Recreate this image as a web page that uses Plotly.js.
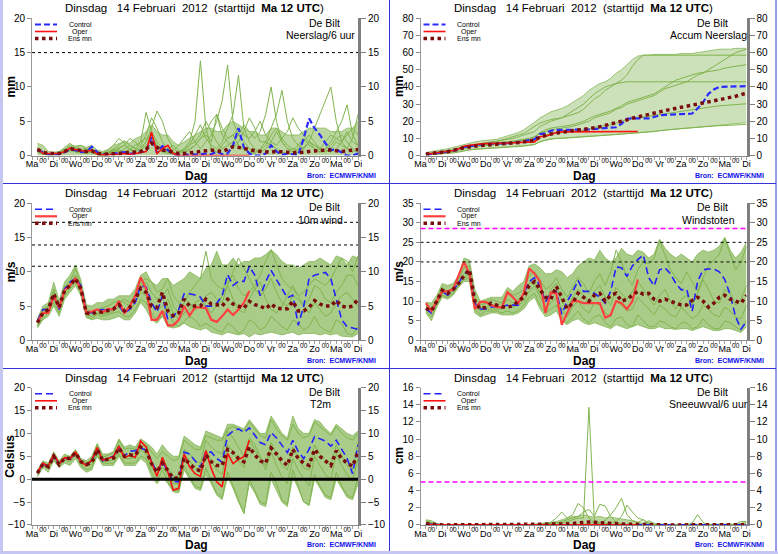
<!DOCTYPE html>
<html><head><meta charset="utf-8">
<script src="https://cdn.plot.ly/plotly-3.0.1.min.js"></script>
<style>html,body{margin:0;padding:0;background:#fff}#chart{width:778px;height:554px}</style>
</head><body><div id="chart"></div>
<script>
// ---------- time axis ----------
const leadDays = [0.25,0.5,0.75,1,1.25,1.5,1.75,2,2.25,2.5,2.75,3,3.25,3.5,3.75,4,4.25,4.5,4.75,5,
 5.25,5.5,5.75,6,6.25,6.5,6.75,7,7.25,7.5,7.75,8,8.25,8.5,8.75,9,9.25,9.5,9.75,10,
 10.25,10.5,10.75,11,11.25,11.5,11.75,12,12.25,12.5,12.75,13,13.25,13.5,13.75,14,14.25,14.5,14.75,15];
const dayPos = [0,1,2,3,4,5,6,7,8,9,10,11,12,13,14,15];
const dayNames = ['Ma','Di','Wo','Do','Vr','Za','Zo','Ma','Di','Wo','Do','Vr','Za','Zo','Ma','Di'];
const midPos = [0.5,1.5,2.5,3.5,4.5,5.5,6.5,7.5,8.5,9.5,10.5,11.5,12.5,13.5,14.5];
const midLabels = ['00','00','00','00','00','00','00','00','00','00','00','00','00','00','00'];

// ---------- panel 1: Neerslag/6 uur ----------
const p1Ticks = [0,5,10,15,20];
const p1Dotted = [15];
const p1Ctrl = [0.8,0.5,0.2,0.2, 0.2,0.5,0.9,0.8, 0.5,0.6,1.3,0.5, 0.2,0.2,0.3,0.3, 0.5,0.3,0.3,0.5,
 0.6,2.7,0.4,1.4, 0.8,0.2,0.1,0.1, 0.1,0.1,0.2,0.3, 0.2,0.6,0.2,0.3, 1.5,4.0,1.2,0.3,
 0.0,0.0,0.3,1.5, 0.6,0.1,0.3,0.2, 0.1,2.5,5.4,4.0, 3.0,1.8,0.8,0.9, 0.4,0.0,0.0,0.3];
const p1Oper = [1.0,0.3,0.3,0.3, 0.3,0.6,1.1,0.9, 0.7,0.6,0.8,0.2, 0.1,0.1,0.2,0.2, 0.3,0.2,0.3,0.4,
 0.6,3.4,0.3,1.0, 1.5,0.3,0.0,0.0, 0.0,0.0,0.1,0.1, 0.1,0.0,0.0,0.0, 0.0,0.0,0.0,0.0];
const p1Mean = [0.9,0.5,0.3,0.3, 0.3,0.6,1.0,0.9, 0.7,0.6,0.7,0.3, 0.2,0.2,0.3,0.3, 0.4,0.5,0.5,0.6,
 0.9,1.8,1.2,0.8, 0.7,0.5,0.3,0.3, 0.4,0.5,0.7,0.8, 0.8,0.7,0.6,0.9, 1.3,1.2,1.0,0.8,
 0.7,0.6,0.5,0.5, 0.6,0.6,0.5,0.4, 0.4,0.5,0.6,0.7, 0.7,0.8,0.8,0.7, 0.6,0.7,0.8,0.9];
const p1Hi = [1.8,1.5,0.6,0.5, 0.6,1.0,1.6,1.4, 1.5,1.2,1.5,0.8, 0.6,0.9,1.5,1.8, 2.0,1.8,2.5,2.8,
 3.5,4.5,3.5,3.0, 3.0,2.0,1.5,2.0, 2.5,3.0,3.5,4.0, 4.0,3.5,3.5,4.5, 5.0,4.5,4.0,3.5,
 3.5,3.0,3.0,4.0, 4.0,3.5,3.0,3.0, 3.0,3.5,4.0,4.0, 4.0,4.0,3.5,3.5, 3.5,4.0,4.0,5.0];
const p1M1 = [0.5,0.2,0.1,0.1, 0.2,0.8,1.0,0.5, 0.4,0.3,0.5,0.1, 0.0,0.3,0.8,1.2, 1.5,0.8,0.5,1.0,
 2.0,3.0,1.5,0.8, 0.5,0.3,0.5,1.0, 2.0,5.0,13.8,4.0, 1.0,0.5,1.5,2.5, 3.0,1.5,0.8,0.5,
 0.3,1.0,2.0,1.5, 1.0,0.5,0.3,0.2, 0.5,1.0,2.0,1.5, 0.8,0.5,1.0,2.0, 1.5,1.0,0.5,1.0];
const p1M2 = [1.2,0.6,0.2,0.3, 0.5,1.2,1.8,1.0, 0.6,0.8,1.0,0.3, 0.2,0.5,1.0,1.5, 2.2,1.5,1.0,2.0,
 6.3,3.5,2.0,1.0, 0.5,0.8,1.5,2.5, 3.5,2.0,1.0,2.0, 3.0,5.0,8.0,13.2, 5.0,3.0,2.0,1.0,
 0.5,0.8,1.5,3.0, 4.0,2.5,1.5,1.0, 0.8,1.2,2.0,1.0, 0.5,1.0,1.5,2.5, 3.0,2.0,1.0,0.5];
const p1M3 = [0.7,0.4,0.1,0.2, 0.3,0.5,0.8,1.2, 1.5,0.8,0.4,0.2, 0.1,0.2,0.5,1.0, 1.5,2.5,2.0,1.2,
 2.0,4.0,6.5,5.0, 2.5,1.0,0.5,0.8, 1.5,3.0,4.5,2.5, 1.5,1.0,2.0,4.0, 6.0,11.7,4.0,2.0,
 1.0,0.5,1.0,2.0, 3.5,2.0,1.0,0.5, 1.0,2.0,3.0,2.0, 1.0,0.8,0.5,1.0, 2.0,3.5,2.0,1.5];
const p1M4 = [0.9,0.5,0.2,0.1, 0.2,0.6,1.2,0.8, 0.5,0.4,0.8,0.5, 0.3,0.5,0.8,0.5, 1.0,1.5,1.0,0.8,
 1.5,2.5,1.5,0.5, 0.3,0.2,0.5,1.0, 1.5,2.0,3.0,5.0, 3.5,2.0,1.0,1.5, 2.0,3.0,4.5,3.5,
 2.5,3.5,6.0,10.0, 5.0,2.0,1.0,0.8, 1.5,2.5,1.5,1.0, 0.5,1.0,2.0,3.5, 5.0,7.4,3.0,1.5];
const p1M5 = [0.6,0.3,0.2,0.2, 0.4,0.9,1.4,1.0, 0.8,0.6,0.3,0.2, 0.2,0.4,0.6,0.8, 0.6,0.9,1.5,2.0,
 2.5,3.0,1.0,0.6, 1.0,1.5,0.8,0.4, 0.8,1.5,2.5,3.5, 5.0,6.0,3.0,2.0, 1.0,2.0,3.5,5.5,
 4.0,2.0,2.0,4.0, 6.0,9.5,5.0,2.5, 1.5,1.0,2.0,4.0, 6.0,8.0,10.0,5.0, 2.0,1.0,2.5,6.0];
const p1M6 = [0.8,0.4,0.3,0.2, 0.1,0.4,0.7,0.6, 0.9,1.0,0.6,0.2, 0.4,0.8,1.5,2.5, 1.8,1.0,0.7,1.5,
 3.0,5.5,4.0,2.0, 1.0,0.5,0.3,0.6, 1.0,1.5,2.5,3.0, 2.0,6.0,4.0,2.5, 3.0,4.0,3.0,2.5,
 3.5,5.0,3.0,2.0, 1.5,2.5,3.5,5.5, 4.0,3.0,2.0,1.5, 1.0,2.0,3.0,2.5, 2.0,3.0,4.0,3.0];

// ---------- panel 2: Accum Neerslag ----------
const p2Ticks = [0,10,20,30,40,50,60,70,80];
const p2Ctrl = [0.5,1.0,1.5,2.0, 2.3,2.8,3.8,5.0, 5.5,6.0,6.5,6.8, 7.0,7.0,7.1,7.2, 7.5,7.8,8.3,9.0,
 9.5,12.5,13.0,14.5, 15.0,15.0,15.0,15.0, 15.0,15.0,15.2,15.5, 15.8,16.0,16.3,16.5, 18.5,21.5,21.7,21.7,
 21.7,21.7,22.5,23.5, 23.7,24.0,24.0,24.2, 24.3,24.5,27.5,31.0, 36.0,38.5,40.0,40.2, 40.3,40.3,40.3,40.5];
const p2Oper = [0.8,1.2,1.6,2.0, 2.3,3.0,4.0,5.5, 6.0,6.5,6.8,7.0, 7.0,7.1,7.2,7.3, 7.5,7.6,7.7,7.8,
 8.0,11.0,11.3,12.3, 13.5,13.8,13.8,13.8, 13.8,13.8,13.9,13.9, 14.0,14.0,14.0,14.0, 14.0,14.0,14.0,14.0];
const p2Mean = [0.9,1.4,1.7,2.0, 2.3,2.8,3.8,4.6, 5.2,5.6,5.9,6.1, 6.3,6.5,6.7,7.0, 7.3,7.6,8.0,8.4,
 9.0,10.8,11.8,12.6, 13.2,13.6,13.9,14.2, 14.5,15.0,15.5,16.2, 16.8,17.5,18.2,18.9, 19.8,20.8,21.8,22.6,
 23.3,24.0,24.8,25.5, 26.2,26.9,27.6,28.3, 28.9,29.5,30.1,30.7, 31.3,31.9,32.5,33.1, 33.8,34.6,35.5,36.5];
const p2Lo = [0.3,0.6,0.8,1.0, 1.3,1.7,2.3,3.0, 3.5,3.8,4.0,4.2, 4.3,4.5,4.7,4.9, 5.1,5.3,5.6,6.0,
 6.5,8.0,9.0,9.8, 10.0,10.2,10.3,10.5, 10.6,10.8,11.0,11.2, 11.4,11.6,11.8,12.0, 12.3,12.6,13.0,13.3,
 13.6,14.0,14.3,14.6, 14.9,15.2,15.5,15.8, 16.1,16.4,16.7,17.0, 17.3,17.6,17.9,18.2, 18.5,18.8,19.0,19.2];
const p2Hi = [1.8,2.5,3.0,3.5, 4.0,4.8,5.8,6.8, 7.5,8.0,8.5,8.8, 9.0,9.5,10.5,11.5, 12.5,13.5,15.0,17.0,
 19.5,22.0,24.0,25.5, 26.5,27.5,29.0,31.0, 33.0,35.0,38.0,40.0, 42.0,43.0,45.0,48.0, 50.0,53.0,56.0,58.0,
 58.5,58.5,59.0,59.0, 59.0,59.0,59.0,59.5, 59.5,59.5,60.0,60.5, 61.0,61.5,62.0,62.0, 62.0,62.5,62.5,62.5];
const p2M1 = [0.8,1.2,1.5,2.0, 2.5,3.0,4.0,5.0, 5.5,6.0,6.5,7.0, 7.5,8.0,9.0,10.0, 11.0,12.0,13.0,15.0,
 17.0,19.0,20.0,21.0, 21.5,22.0,23.0,24.0, 25.0,27.0,30.0,33.0, 35.0,38.0,40.0,42.0, 44.0,47.0,52.0,56.0,
 58.5,58.5,58.5,58.5, 58.5,58.5,58.5,58.5, 58.5,58.5,58.5,58.5, 58.5,58.5,58.5,58.5, 58.5,58.5,58.5,58.5];
const p2M2 = [0.5,1.0,1.3,1.8, 2.2,2.8,3.5,4.5, 5.0,5.5,6.0,6.3, 6.5,6.8,7.0,7.5, 8.0,8.5,9.0,10.0,
 11.0,13.0,14.0,15.0, 15.5,16.0,16.5,17.0, 18.0,19.0,20.0,22.0, 23.0,24.0,25.0,27.0, 28.0,30.0,31.0,32.0,
 33.0,34.0,35.0,37.0, 39.0,40.0,41.0,42.0, 43.0,45.0,47.0,48.0, 50.0,52.0,54.0,56.0, 58.0,60.0,61.0,62.0];
const p2M3 = [0.3,0.5,0.8,1.0, 1.2,1.5,2.0,2.8, 3.3,3.6,3.8,4.0, 4.2,4.4,4.5,4.7, 5.0,5.2,5.5,6.0,
 6.5,8.0,9.0,9.5, 10.0,10.0,10.2,10.3, 10.5,10.7,11.0,11.3, 11.5,11.7,12.0,12.3, 12.5,12.8,13.0,13.0,
 13.2,13.5,14.0,14.5, 15.0,15.2,15.5,15.8, 16.0,16.2,16.5,16.7, 17.0,17.2,17.4,17.6, 17.8,18.0,18.0,18.2];
const p2M4 = [1.0,1.5,2.0,2.5, 3.0,3.5,4.5,5.5, 6.0,6.5,7.0,7.5, 8.0,8.5,9.0,9.5, 10.0,11.0,12.0,13.0,
 14.0,17.0,18.5,20.0, 21.0,22.0,24.0,26.0, 28.0,30.0,33.0,36.0, 38.0,40.0,41.0,42.0, 42.5,43.0,43.0,43.0,
 43.0,43.0,43.0,43.0, 43.0,43.0,43.0,43.0, 43.0,43.0,43.0,43.0, 43.0,43.0,43.0,43.0, 43.0,43.0,43.0,43.0];
const p2M5 = [0.6,1.0,1.5,2.0, 2.4,3.0,4.0,5.0, 5.5,6.0,6.4,6.8, 7.0,7.3,7.6,8.0, 8.5,9.0,9.5,10.0,
 11.0,13.5,15.0,16.0, 16.5,17.0,17.5,18.0, 19.0,20.0,21.5,23.0, 24.0,25.0,26.0,27.5, 29.0,31.0,32.0,33.0,
 34.0,35.0,36.0,38.0, 40.0,42.0,44.0,45.0, 46.0,47.0,48.0,48.5, 49.0,49.5,50.0,51.0, 51.5,52.0,52.5,53.0];
const p2M6 = [0.7,1.1,1.4,1.8, 2.1,2.6,3.4,4.4, 5.0,5.4,5.8,6.0, 6.2,6.4,6.6,6.9, 7.2,7.5,8.0,8.5,
 9.0,11.0,12.0,12.8, 13.2,13.5,13.8,14.0, 14.3,14.8,15.5,16.5, 17.0,17.5,18.0,19.0, 20.0,21.0,21.5,22.0,
 22.5,23.0,23.5,24.0, 24.5,25.0,25.5,26.0, 26.5,27.0,27.5,28.0, 28.3,28.6,29.0,29.3, 29.6,29.8,30.0,30.2];

// ---------- panel 3: 10m wind ----------
const p3Ticks = [0,5,10,15,20];
const p3Dotted = [10.8,13.9,17.2];
const p3Ctrl = [2.8,4.5,4.5,6.5, 4.5,7.5,8.5,9.0, 8.0,4.2,4.0,4.4, 4.5,4.5,4.5,5.0, 4.0,4.5,5.5,8.0,
 7.8,5.5,4.1,6.5, 3.0,3.5,4.5,6.8, 6.8,6.6,6.3,5.0, 5.0,5.4,6.5,9.6, 8.0,8.6,8.6,10.8,
 9.5,6.5,8.5,10.2, 8.8,7.5,6.2,6.6, 2.2,5.0,9.0,9.5, 9.7,9.9,9.0,6.0, 3.0,2.0,1.8,1.6];
const p3Oper = [2.6,4.0,4.0,6.5, 4.7,7.3,8.0,9.0, 7.5,4.0,4.2,4.5, 4.1,4.6,4.5,5.7, 4.0,5.0,6.5,9.2,
 7.5,3.0,3.0,4.3, 2.2,2.2,3.0,5.0, 3.6,4.8,4.8,4.7, 3.0,2.7,3.5,4.5, 3.7,4.5,5.5,7.2];
const p3Mean = [2.6,4.0,4.5,6.8, 4.8,7.3,8.0,9.0, 7.5,4.0,3.8,4.2, 4.1,4.4,4.6,5.2, 4.3,4.8,6.0,7.6,
 7.0,5.0,4.8,7.0, 4.3,3.6,4.0,6.0, 5.0,5.0,5.0,6.0, 5.3,5.2,5.0,6.0, 5.3,5.0,4.7,5.7,
 5.2,5.0,4.6,5.3, 4.7,4.6,4.6,5.7, 4.3,4.3,4.8,5.8, 5.3,5.0,5.0,5.8, 5.0,4.8,5.0,6.0];
const p3Lo = [1.8,3.0,3.5,5.0, 3.5,6.0,7.0,8.0, 6.5,3.3,3.0,3.2, 3.0,3.0,3.2,3.5, 3.0,3.0,4.0,5.5,
 4.5,3.0,2.5,3.5, 2.0,1.8,2.0,2.5, 2.0,1.8,1.5,1.8, 1.2,1.0,0.8,1.2, 1.0,0.8,1.0,0.5,
 1.0,0.8,1.0,1.2, 1.0,0.8,1.0,1.2, 0.8,1.0,1.0,1.0, 0.8,1.0,0.8,1.0, 0.6,0.5,0.5,1.0];
const p3Hi = [3.2,5.0,5.5,8.5, 5.8,8.5,9.5,11.0, 8.8,5.2,5.0,5.5, 5.5,6.0,6.0,6.5, 6.5,6.5,7.5,9.5,
 10.0,8.5,8.0,9.0, 9.0,8.0,8.5,9.0, 10.0,9.5,9.0,10.5, 11.0,13.0,11.0,11.0, 12.0,11.0,11.5,11.5,
 12.0,12.0,12.5,13.2, 12.5,11.5,11.0,11.0, 10.5,11.0,11.5,11.5, 12.0,11.5,11.0,12.3, 12.0,11.0,12.3,12.0];
const p3M1 = [2.5,4.2,4.8,7.5, 5.0,7.8,8.5,10.5, 8.0,4.5,4.0,4.5, 4.8,5.0,5.5,5.8, 5.5,5.0,6.0,8.0,
 8.5,7.0,6.0,6.5, 7.5,5.0,4.0,5.5, 7.0,8.0,9.0,13.0, 9.0,8.0,7.5,8.5, 9.5,7.5,6.5,7.0,
 8.0,9.5,11.5,13.2, 11.0,9.0,8.0,7.5, 6.5,7.0,8.0,9.0, 8.5,8.0,9.0,10.5, 12.0,11.5,10.0,12.3];
const p3M2 = [2.0,3.2,4.0,5.5, 4.0,6.5,7.5,8.5, 7.0,3.5,3.2,3.8, 3.5,3.8,4.0,4.2, 3.5,3.5,4.5,6.0,
 5.5,4.0,3.0,3.5, 5.0,2.5,2.0,2.8, 3.5,3.0,2.0,2.5, 2.0,1.5,1.2,2.5, 2.0,1.0,1.5,3.0,
 2.5,1.5,2.0,3.5, 2.8,2.0,1.5,3.0, 2.5,1.5,2.0,3.5, 2.0,1.5,1.2,3.0, 2.5,1.0,0.8,2.0];
const p3M3 = [3.0,4.5,5.0,7.0, 5.2,7.5,8.2,9.5, 7.8,4.5,4.2,4.5, 4.0,4.2,4.8,5.5, 6.0,5.5,6.5,8.5,
 9.0,8.5,7.0,7.5, 9.0,6.5,5.5,6.0, 5.5,4.5,5.0,6.5, 7.0,6.0,5.5,8.0, 10.0,12.0,10.5,9.0,
 7.5,6.5,7.5,9.0, 7.0,5.5,5.0,6.5, 6.0,5.0,6.0,8.0, 7.5,6.0,5.5,7.0, 8.0,9.5,9.5,8.0];
const p3M4 = [2.2,3.8,4.2,6.0, 4.5,7.0,7.8,8.8, 7.2,3.8,3.5,4.0, 3.8,4.0,4.2,5.0, 4.5,4.5,5.5,7.0,
 6.5,5.5,4.5,5.0, 6.0,4.0,3.0,4.0, 4.5,5.5,6.0,5.0, 4.0,5.0,6.5,8.0, 6.0,4.5,4.0,6.0,
 7.5,8.5,6.0,4.5, 4.0,5.0,6.5,8.0, 6.5,5.0,4.0,5.5, 4.5,3.5,4.0,5.5, 6.5,7.0,6.0,5.0];

// ---------- panel 4: Windstoten ----------
const p4Ticks = [0,5,10,15,20,25,30,35];
const p4Dotted = [20,25];
const p4Magenta = [28.5];
const p4Ctrl = [8.0,7.0,10.0,12.5, 11.5,12.8,14.5,17.0, 17.5,9.5,8.0,8.0, 8.5,8.5,8.5,9.0, 9.0,9.0,12.0,15.0,
 16.0,14.0,9.8,12.2, 12.5,6.7,10.0,12.3, 15.3,12.5,12.5,12.0, 11.0,9.5,12.5,18.7, 18.5,16.3,19.0,20.6,
 21.8,16.0,13.9,18.0, 18.5,17.0,14.5,12.9, 13.0,7.4,15.0,18.0, 18.2,18.2,17.5,15.5, 11.6,6.0,2.9,4.8];
const p4Oper = [9.5,7.5,10.0,12.5, 12.5,13.0,16.5,20.0, 17.0,8.0,9.8,9.8, 9.0,8.5,8.5,12.3, 11.0,9.5,12.0,18.3,
 17.0,15.0,7.0,12.2, 12.0,4.0,7.0,10.0, 10.0,9.5,9.5,9.5, 9.5,5.8,6.5,10.0, 9.5,8.0,10.0,15.5];
const p4Mean = [8.2,7.5,10.0,12.8, 12.0,13.0,14.5,16.5, 18.0,10.0,8.0,8.5, 9.5,9.0,8.5,8.5, 8.8,10.0,11.0,14.0,
 15.0,13.0,11.0,10.5, 13.8,11.0,8.1,9.5, 12.0,11.0,10.0,11.5, 12.0,10.0,11.5,12.0, 10.0,10.5,11.5,12.5,
 11.8,12.0,10.5,10.0, 10.5,10.0,9.5,9.0, 9.0,10.2,11.0,10.0, 8.5,9.5,11.0,11.5, 10.5,10.0,9.5,11.5];
const p4Lo = [7.0,5.0,8.5,11.0, 10.5,11.5,13.5,15.0, 15.0,7.0,6.0,6.5, 7.0,7.0,6.5,6.5, 6.5,7.0,8.0,10.0,
 11.0,8.0,6.0,6.5, 7.5,5.0,4.0,5.0, 5.5,4.5,4.0,4.5, 4.0,3.5,3.0,4.0, 3.5,3.0,3.5,4.0,
 3.5,3.0,3.0,3.5, 3.0,3.0,2.8,3.0, 3.0,2.5,3.0,3.5, 3.0,2.5,2.5,3.0, 3.0,2.5,2.0,3.5];
const p4Hi = [9.8,9.5,11.5,14.5, 14.0,14.5,16.5,21.0, 20.5,13.0,10.0,10.5, 11.0,11.0,11.0,13.5, 12.5,14.0,15.0,19.0,
 19.5,18.5,17.0,17.0, 18.0,17.5,16.0,17.0, 19.0,20.0,21.0,20.5, 23.0,21.0,20.0,21.0, 23.5,22.0,21.5,23.0,
 22.5,21.0,22.0,25.8, 23.5,22.0,21.0,22.0, 21.0,20.0,22.0,23.0, 22.5,23.0,24.0,26.3, 23.0,21.0,22.5,25.0];
const p4M1 = [8.5,8.0,10.5,13.5, 12.5,13.5,15.5,18.5, 19.0,11.0,9.0,9.5, 10.5,10.0,9.5,12.5, 11.5,12.0,13.0,16.5,
 17.5,15.5,13.0,14.0, 16.0,13.0,11.0,13.5, 16.0,14.5,12.0,15.0, 17.0,14.0,17.5,23.0, 20.0,16.0,14.0,18.0,
 20.0,19.5,21.0,25.5, 22.0,18.0,16.0,14.5, 17.5,15.0,12.5,16.0, 19.0,20.5,22.0,26.0, 22.0,18.0,20.0,24.0];
const p4M2 = [7.5,6.0,9.0,11.5, 11.0,12.0,14.0,15.5, 16.0,8.0,6.5,7.5, 7.5,7.5,7.0,7.5, 7.0,7.5,9.0,11.0,
 12.0,9.0,7.0,8.0, 9.0,6.0,4.5,6.0, 7.5,5.5,4.5,6.0, 6.5,4.5,3.5,5.5, 6.0,4.0,3.5,6.5,
 5.0,3.5,3.5,5.0, 4.5,3.5,3.0,4.5, 4.5,3.0,3.5,5.5, 4.0,3.0,3.0,5.0, 4.5,3.5,2.5,5.0];
const p4M3 = [8.0,7.5,10.0,13.0, 12.2,13.0,14.5,17.0, 17.5,10.0,8.0,8.5, 9.0,9.0,8.5,10.5, 9.5,10.5,11.5,14.5,
 15.0,12.0,10.0,13.0, 14.5,10.0,8.0,11.0, 13.0,11.5,9.5,12.5, 14.0,11.0,9.0,13.5, 12.0,10.5,12.5,15.0,
 13.0,11.0,9.0,11.5, 13.0,10.0,8.0,10.5, 11.5,9.0,12.0,15.5, 13.0,10.0,9.5,13.0, 12.0,9.0,10.5,14.0];
const p4M4 = [8.3,7.2,9.5,12.0, 11.8,12.5,14.0,16.0, 17.0,9.0,7.5,8.0, 8.0,8.0,8.0,9.0, 8.5,9.0,10.0,12.5,
 14.0,11.0,8.5,9.5, 11.0,8.0,6.0,8.5, 10.0,8.0,7.0,9.5, 9.0,7.0,6.0,10.0, 9.0,7.5,8.0,11.0,
 9.5,8.0,6.5,9.0, 8.0,6.5,6.0,8.5, 7.0,5.5,6.5,9.0, 8.0,6.5,6.0,8.5, 7.5,6.0,5.5,9.0];

// ---------- panel 5: T2m ----------
const p5Ticks = [-10,-5,0,5,10,15,20];
const p5Zero = [0];
const p5Ctrl = [1.3,3.4,2.7,5.2, 3.3,4.6,4.4,5.8, 3.9,3.1,4.0,6.7, 4.0,4.6,5.0,7.0, 5.0,6.1,6.2,6.8,
 6.3,4.0,1.5,3.8, 1.5,-0.5,-0.6,5.9, 5.5,4.0,2.6,6.0, 5.9,4.5,3.7,9.5, 10.5,11.0,10.2,11.2,
 9.5,8.0,7.5,10.2, 9.0,7.5,5.8,8.5, 6.0,4.5,6.5,9.3, 8.8,8.3,7.2,8.5, 6.5,4.5,1.2,7.5];
const p5Oper = [1.4,3.5,2.8,5.4, 3.4,4.7,4.5,5.9, 3.8,3.0,4.1,6.9, 4.1,4.5,4.9,7.2, 4.7,5.2,4.8,8.3,
 7.0,3.7,0.6,4.8, 1.6,-2.4,-2.0,5.5, 2.7,1.2,0.6,6.2, 2.3,-0.6,-1.7,5.6, 3.4,4.3,4.9,8.5];
const p5Mean = [1.3,3.3,2.7,5.0, 3.2,4.6,4.5,5.8, 3.8,3.2,3.6,6.5, 4.1,4.4,4.6,6.8, 5.0,5.3,5.2,7.0,
 6.3,3.4,1.5,3.5, 1.7,0.2,0.3,4.6, 3.3,2.3,1.8,5.3, 3.8,3.0,3.0,6.5, 5.8,4.5,3.8,7.0,
 5.3,4.0,3.5,6.8, 5.5,4.0,3.0,6.5, 4.5,3.5,3.0,6.5, 5.0,4.0,3.0,6.2, 4.5,3.5,2.8,6.0];
const p5Lo = [0.5,2.5,1.5,4.0, 2.5,3.5,3.0,4.5, 2.5,1.5,2.0,5.0, 3.0,3.0,3.0,5.0, 3.0,3.0,3.0,4.5,
 3.5,0.5,-1.0,0.5, -1.0,-2.8,-3.0,2.0, 0.0,-2.0,-2.5,1.0, -1.0,-3.5,-4.5,0.5, -2.0,-5.0,-7.5,-1.0,
 -3.0,-5.5,-6.0,0.0, -2.5,-5.0,-6.0,0.5, -2.0,-5.0,-5.8,0.0, -2.0,-4.0,-4.5,0.0, -2.0,-4.0,-4.5,-1.0];
const p5Hi = [2.0,4.0,3.5,6.0, 4.0,5.5,5.0,6.5, 4.5,4.0,5.0,7.8, 5.5,5.5,6.0,8.8, 7.0,7.5,7.0,8.8,
 8.0,7.0,5.5,7.5, 6.0,5.0,5.0,9.4, 8.5,7.5,7.0,10.5, 10.0,9.5,9.0,12.0, 12.0,11.5,11.0,13.0,
 11.5,10.0,10.0,13.8, 12.0,10.0,9.0,13.8, 11.0,10.0,10.0,13.0, 12.5,11.0,10.0,12.0, 11.0,10.0,9.5,10.5];
const p5M1 = [1.5,3.6,3.0,5.5, 3.5,4.8,4.8,6.2, 4.2,3.5,4.5,7.5, 4.8,5.2,5.8,8.5, 6.5,6.8,6.5,8.0,
 7.5,6.0,4.5,6.0, 5.0,4.0,4.5,8.5, 7.5,6.5,6.5,9.5, 9.0,8.5,8.5,11.0, 11.5,11.0,10.5,12.5,
 11.0,9.5,9.0,13.0, 11.0,9.5,8.5,12.0, 10.0,9.0,9.5,12.5, 11.5,10.5,9.5,11.5, 10.0,9.0,8.5,10.0];
const p5M2 = [1.0,3.0,2.3,4.5, 2.8,4.2,3.8,5.2, 3.2,2.0,2.5,5.5, 3.5,3.5,3.5,5.5, 3.5,3.5,3.5,5.0,
 4.5,1.5,-0.5,2.0, -0.5,-2.5,-2.5,3.0, 0.5,-1.5,-2.0,2.5, -0.5,-3.0,-4.0,1.5, -1.5,-4.5,-7.5,0.0,
 -2.5,-5.0,-5.5,1.5, -1.0,-4.5,-5.5,2.0, -1.5,-5.0,-5.5,1.0, -1.5,-3.5,-4.0,1.5, -1.5,-3.5,-4.0,0.5];
const p5M3 = [1.2,3.3,2.6,5.0, 3.0,4.5,4.3,5.7, 3.5,2.8,3.2,6.2, 3.8,4.0,4.2,6.5, 4.5,4.5,4.8,7.0,
 6.5,3.0,1.0,4.5, 2.5,0.5,0.0,5.5, 4.0,2.5,1.5,6.5, 4.0,2.0,1.0,7.5, 6.0,4.0,2.5,8.5,
 6.5,4.5,3.0,8.0, 5.5,3.0,2.0,7.0, 4.5,2.5,2.0,7.5, 5.5,4.0,3.0,7.5, 5.0,3.0,2.0,8.0];
const p5M4 = [1.4,3.5,2.9,5.2, 3.4,4.7,4.6,6.0, 4.0,3.3,3.8,7.0, 4.3,4.7,5.0,7.5, 5.5,5.0,4.5,6.5,
 5.5,2.5,2.0,2.5, 1.0,-1.0,-1.0,6.5, 5.5,4.0,3.5,8.5, 7.0,6.0,5.5,10.5, 9.0,7.0,5.0,9.0,
 7.5,5.0,2.0,6.0, 3.0,0.5,-1.0,4.5, 2.0,0.0,-1.5,5.0, 3.0,1.0,0.0,5.5, 3.0,1.0,-0.5,4.5];

// ---------- panel 6: Sneeuwval/6 uur ----------
const p6Ticks = [0,2,4,6,8,10,12,14,16];
const p6Magenta = [5];
const p6Ctrl = [0.1,0.05,0,0, 0,0,0,0, 0,0,0,0, 0,0,0,0, 0,0,0,0, 0,0,0,0, 0,0,0,0, 0,0,0.02,0.02,
 0.02,0,0,0, 0,0,0,0, 0,0,0,0, 0,0,0,0, 0,0,0,0, 0,0,0,0, 0,0,0,0];
const p6Oper = [0.05,0,0,0, 0,0,0,0, 0,0,0,0, 0,0,0,0, 0,0,0,0, 0,0,0,0, 0,0,0,0, 0,0,0,0,
 0,0,0,0, 0,0,0,0];
const p6Mean = [0.12,0.06,0.02,0, 0,0,0,0, 0,0,0,0, 0,0,0,0, 0,0,0,0, 0,0,0.02,0.04,
 0.06,0.1,0.12,0.15, 0.2,0.28,0.35,0.3, 0.22,0.18,0.15,0.12, 0.1,0.08,0.06,0.04,
 0.03,0.02,0.01,0, 0,0,0,0, 0,0,0.02,0.01, 0,0,0,0, 0,0,0.01,0.02];
const p6Hi = [0.6,0.5,0.15,0.05, 0.02,0,0,0, 0,0,0,0, 0,0,0,0, 0,0,0,0.05, 0.1,0.15,0.2,0.3,
 0.4,0.6,0.8,1.0, 1.0,1.2,1.0,0.9, 1.0,0.8,0.9,0.8, 0.7,0.6,0.5,0.3,
 0.2,0.5,0.2,0.1, 0.05,0.05,0.05,0.05, 0.05,0.05,0.1,0.05, 0.05,0.05,0.05,0.05, 0.05,0.1,0.2,0.35];
const p6M1 = [0.5,0.3,0,0, 0,0,0,0, 0,0,0,0, 0,0,0,0, 0,0,0,0, 0,0,0.1,0.2,
 0.3,0.2,0.4,0.6, 0.8,0.8,13.7,0.5, 0.3,0.2,0.1,0, 0,0,0,0,
 0,0,0,0, 0,0,0,0, 0,0,0,0, 0,0,0,0, 0,0,0,0];
const p6M2 = [0.4,0.2,0,0, 0,0,0,0, 0,0,0,0, 0,0,0,0, 0,0,0,0, 0,0.1,0.2,0.3,
 0.8,1.5,0.8,1.2, 2.5,2.0,0.8,0.3, 0.1,0,0,0, 0,0,0,0,
 0,0,0,0, 0,0,0,0, 0,0,0,0, 0,0,0,0, 0,0,0,0];
const p6M3 = [0,0,0,0, 0,0,0,0, 0,0,0,0, 0,0,0,0, 0,0,0,0, 0,0,0,0.1,
 0.2,0.4,0.6,0.8, 1.0,1.5,1.8,1.0, 2.4,2.2,1.0,0.3, 0.1,0,0,0,
 0,0,0,0, 0,0,0,0, 0,0,0,0, 0,0,0,0, 0,0,0,0];
const p6M4 = [0,0,0,0, 0,0,0,0, 0,0,0,0, 0,0,0,0, 0,0,0,0, 0,0,0,0,
 0,0,0,0, 0,0,0.2,0.3, 0.2,0.5,1.2,2.0, 3.1,1.2,0.5,0.3,
 0.6,0.2,0,0, 0,0,0,0, 0,0,0,0, 0,0,0,0, 0,0,0,0];
const p6M5 = [0,0,0,0, 0,0,0,0, 0,0,0,0, 0,0,0,0, 0,0,0,0, 0,0,0,0,
 0,0,0,0, 0,0,0,0, 0,0,0.2,0.4, 1.0,2.3,1.5,0.8,
 0.6,0.1,0,0, 0,0,0,0, 0,0.2,1.2,0.3, 0,0,0,0, 0,0.1,0.4,0.4];

// ---------- texts ----------
const titleText = 'Dinsdag&nbsp;&nbsp; 14 Februari&nbsp; 2012&nbsp; (starttijd&nbsp; <b>Ma 12 UTC</b>)';
const stationText = 'De Bilt';
const legendLabels = ['Control','Oper','Ens mn'];
const sourceText = '<b>Bron:&nbsp; ECMWF/KNMI</b>';
const xTitleText = '<b>Dag</b>';

// ---------- styles ----------
const FONT = 'Liberation Sans, Arial, sans-serif';
const EDGE = 'rgba(125,178,75,0.9)';
const MEMBER = 'rgb(128,180,78)';
const MEAN = { color:'#7a0c0c', width:3.5, dash:'dot' };
const styleA = { ctrl:{color:'#2a2aff', width:2.2, dash:'6px,3px'}, oper:{color:'#ff1010', width:1.6} };
const styleW = { ctrl:{color:'#2222ff', width:1.6, dash:'7px,4px'}, oper:{color:'#ff4040', width:2.2} };
const styleT = { ctrl:{color:'#2222ff', width:1.6, dash:'7px,4px'}, oper:{color:'#ff1010', width:1.6} };

const panels = [
 {label:'Neerslag/6 uur', unit:'mm', range:[0,20], ticks:p1Ticks, ctrl:p1Ctrl, oper:p1Oper, mean:p1Mean,
  lo:null, hi:p1Hi, members:[p1M1,p1M2,p1M3,p1M4,p1M5,p1M6], dotted:p1Dotted, magenta:[], zero:[], st:styleA,
  band:'rgba(122,174,70,0.50)'},
 {label:'Accum Neerslag', unit:'mm', range:[0,80], ticks:p2Ticks, ctrl:p2Ctrl, oper:p2Oper, mean:p2Mean,
  lo:p2Lo, hi:p2Hi, members:[p2M1,p2M2,p2M3,p2M4,p2M5,p2M6], dotted:[], magenta:[], zero:[], st:styleA,
  band:'rgba(122,174,70,0.38)'},
 {label:'10m wind', unit:'m/s', range:[0,20], ticks:p3Ticks, ctrl:p3Ctrl, oper:p3Oper, mean:p3Mean,
  lo:p3Lo, hi:p3Hi, members:[p3M1,p3M2,p3M3,p3M4], dotted:p3Dotted, magenta:[], zero:[], st:styleW,
  band:'rgba(118,172,64,0.62)'},
 {label:'Windstoten', unit:'m/s', range:[0,35], ticks:p4Ticks, ctrl:p4Ctrl, oper:p4Oper, mean:p4Mean,
  lo:p4Lo, hi:p4Hi, members:[p4M1,p4M2,p4M3,p4M4], dotted:p4Dotted, magenta:p4Magenta, zero:[], st:styleW,
  band:'rgba(118,172,64,0.62)'},
 {label:'T2m', unit:'Celsius', range:[-10,20], ticks:p5Ticks, ctrl:p5Ctrl, oper:p5Oper, mean:p5Mean,
  lo:p5Lo, hi:p5Hi, members:[p5M1,p5M2,p5M3,p5M4], dotted:[], magenta:[], zero:p5Zero, st:styleT,
  band:'rgba(118,172,64,0.62)'},
 {label:'Sneeuwval/6 uur', unit:'cm', range:[0,16], ticks:p6Ticks, ctrl:p6Ctrl, oper:p6Oper, mean:p6Mean,
  lo:null, hi:p6Hi, members:[p6M1,p6M2,p6M3,p6M4,p6M5], dotted:[], magenta:p6Magenta, zero:[], st:styleT,
  band:'rgba(122,174,70,0.50)'}
];

// ---------- geometry (pixels) ----------
const W = 778, H = 554;
const COL_X = [0, 388.5], ROW_Y = [0, 184.8, 369.3];
const PLOT_LEFT = 32, PLOT_TOP = 18.3, PW = 326, PH = 137.3;
const px = v => v / W, py = v => 1 - v / H;

const traces = [], shapes = [], annotations = [];
const layout = {
  width: W, height: H, margin:{l:0,r:0,t:0,b:0}, showlegend:false,
  paper_bgcolor:'#ffffff', plot_bgcolor:'#ffffff',
  font:{family:FONT, size:10, color:'#000'}
};

panels.forEach((p, k) => {
  const col = k % 2, row = Math.floor(k / 2), n = k + 1;
  const ox = COL_X[col], oy = ROW_Y[row];
  const xid = n === 1 ? 'x' : 'x' + n, yid = n === 1 ? 'y' : 'y' + n;
  const xk = n === 1 ? 'xaxis' : 'xaxis' + n, yk = n === 1 ? 'yaxis' : 'yaxis' + n;
  const x2 = 'x' + (n + 6), y2 = 'y' + (n + 6);
  const L = ox + PLOT_LEFT, T = oy + PLOT_TOP;
  const dx = [px(L), px(L + PW)], dy = [py(T + PH), py(T)];

  layout[xk] = { domain:dx, anchor:yid, range:[0,15], tickmode:'array', tickvals:dayPos, ticktext:dayNames,
    ticks:'', showline:true, linecolor:'#8a8a8a', linewidth:1,
    showgrid:false, zeroline:false, tickfont:{size:9, family:FONT, color:'#000'},
    minor:{ticks:'outside', tick0:0, dtick:0.25, ticklen:3, tickcolor:'#a0a0a0'}, fixedrange:true };
  layout['xaxis' + (n + 6)] = { overlaying:xid, anchor:yid, side:'bottom', range:[0,15], tickmode:'array',
    tickvals:midPos, ticktext:midLabels, ticks:'', showline:false, showgrid:false, zeroline:false,
    tickfont:{size:6.5, family:FONT, color:'#000'}, fixedrange:true };
  layout[yk] = { domain:dy, anchor:xid, range:p.range, tickmode:'array', tickvals:p.ticks,
    ticks:'outside', ticklen:4, tickcolor:'#8a8a8a', showline:true, linecolor:'#9a9a9a', linewidth:1,
    showgrid:false, zeroline:false, tickfont:{size:10, family:FONT, color:'#000'}, fixedrange:true };
  layout['yaxis' + (n + 6)] = { overlaying:yid, anchor:xid, side:'right', range:p.range, tickmode:'array',
    tickvals:p.ticks, ticks:'outside', ticklen:5, tickcolor:'#7f7f7f', showline:true, linecolor:'#7f7f7f',
    linewidth:3, showgrid:false, zeroline:false, tickfont:{size:10, family:FONT, color:'#000'}, fixedrange:true };

  // register overlay subplots
  traces.push({type:'scatter', x:[], y:[], xaxis:x2, yaxis:yid, hoverinfo:'skip'});
  traces.push({type:'scatter', x:[], y:[], xaxis:xid, yaxis:y2, hoverinfo:'skip'});

  const base = {type:'scatter', mode:'lines', xaxis:xid, yaxis:yid, hoverinfo:'skip'};
  if (p.lo) {
    traces.push({...base, x:leadDays, y:p.lo, line:{color:EDGE, width:0.8}});
    traces.push({...base, x:leadDays, y:p.hi, line:{color:EDGE, width:0.8}, fill:'tonexty', fillcolor:p.band});
  } else {
    traces.push({...base, x:leadDays, y:p.hi, line:{color:EDGE, width:0.8}, fill:'tozeroy', fillcolor:p.band});
  }
  p.members.forEach(m => traces.push({...base, x:leadDays, y:m, line:{color:MEMBER, width:1}}));
  traces.push({...base, x:leadDays, y:p.ctrl, line:p.st.ctrl});
  traces.push({...base, x:leadDays.slice(0, p.oper.length), y:p.oper, line:p.st.oper});
  traces.push({...base, x:leadDays, y:p.mean, line:MEAN});

  p.dotted.forEach(v => shapes.push({type:'line', xref:xid, yref:yid, x0:0, x1:15, y0:v, y1:v,
    line:{color:'#000', width:1, dash:'dot'}}));
  p.magenta.forEach(v => shapes.push({type:'line', xref:xid, yref:yid, x0:0, x1:15, y0:v, y1:v,
    line:{color:'#ff00ff', width:1.5, dash:'5px,3px'}}));
  p.zero.forEach(v => shapes.push({type:'line', xref:xid, yref:yid, x0:0, x1:15, y0:v, y1:v,
    line:{color:'#000', width:3}}));

  // legend samples
  const legY = [24.5, 31.5, 38.5];
  const legStyles = [p.st.ctrl, p.st.oper, MEAN];
  legStyles.forEach((s, i) => {
    shapes.push({type:'line', xref:'paper', yref:'paper', x0:px(ox + 35), x1:px(ox + 57),
      y0:py(oy + legY[i]), y1:py(oy + legY[i]), line:s});
    annotations.push({xref:'paper', yref:'paper', x:px(ox + 80), y:py(oy + legY[i]), text:legendLabels[i],
      showarrow:false, xanchor:'center', yanchor:'middle', font:{size:7, family:FONT, color:'#000'}});
  });

  const ann = (x, y, text, font, extra) => annotations.push(Object.assign({xref:'paper', yref:'paper',
    x:px(ox + x), y:py(oy + y), text, showarrow:false, xanchor:'center', yanchor:'middle', font}, extra || {}));
  ann(195, 8.5, titleText, {size:11.5, family:FONT, color:'#000'});
  ann(324, 22.5, stationText, {size:10.5, family:FONT, color:'#000'});
  ann(320, 35, p.label, {size:10.5, family:FONT, color:'#000'});
  ann(196, 176, xTitleText, {size:12, family:FONT, color:'#000'});
  ann(10.5, 87, '<b>' + p.unit + '</b>', {size:12, family:FONT, color:'#000'}, {textangle:-90});
  ann(341, 175.5, sourceText, {size:7, family:FONT, color:'#1010ee'});
});

// frame and separators
shapes.push({type:'rect', xref:'paper', yref:'paper', x0:0, x1:px(3), y0:0, y1:1, line:{width:0}, fillcolor:'#c6c6f2', layer:'below'});
shapes.push({type:'rect', xref:'paper', yref:'paper', x0:0, x1:1, y0:0, y1:1 - 551/H, line:{width:0}, fillcolor:'#c6c6f2', layer:'below'});
shapes.push({type:'line', xref:'paper', yref:'paper', x0:px(389.5), x1:px(389.5), y0:1 - 551/H, y1:1, line:{color:'#3434d8', width:1}});
shapes.push({type:'line', xref:'paper', yref:'paper', x0:px(776), x1:px(776), y0:1 - 551/H, y1:1, line:{color:'#3434d8', width:1}});
shapes.push({type:'line', xref:'paper', yref:'paper', x0:px(3), x1:px(776), y0:py(183.5), y1:py(183.5), line:{color:'#3434d8', width:1}});
shapes.push({type:'line', xref:'paper', yref:'paper', x0:px(3), x1:px(776), y0:py(368.5), y1:py(368.5), line:{color:'#3434d8', width:1}});

layout.shapes = shapes;
layout.annotations = annotations;
Plotly.newPlot('chart', traces, layout, {staticPlot:true, displayModeBar:false});
</script>
</body></html>
